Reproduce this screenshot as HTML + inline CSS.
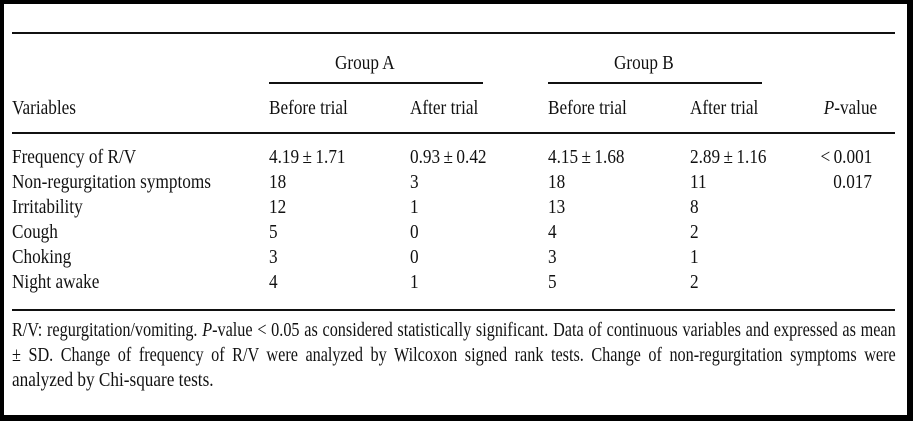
<!DOCTYPE html>
<html><head><meta charset="utf-8"><style>
html,body{margin:0;padding:0;background:#fff}
#f{position:relative;width:913px;height:421px;box-sizing:border-box;border:4px solid #000;border-right-width:6px;border-bottom-width:6px;background:#fff;overflow:hidden;font-family:"Liberation Serif",serif;font-size:20px;color:#111}
.t{position:absolute;line-height:22px;white-space:nowrap;transform:scaleX(0.86);transform-origin:0 0}
.rt{position:absolute;right:35px;line-height:22px;white-space:nowrap;transform:scaleX(0.86);transform-origin:100% 0}
.r{position:absolute;background:#111;height:2px}
.n{position:absolute;left:8px;width:1091px;line-height:24px;white-space:nowrap;text-align:justify;text-align-last:justify;transform:scaleX(0.81);transform-origin:0 0}
</style></head><body><div id="f">
<div class="r" style="left:8px;top:28px;width:883px"></div>
<div class="t" style="left:331px;top:48px">Group A</div>
<div class="t" style="left:610px;top:48px">Group B</div>
<div class="r" style="left:265px;top:78px;width:214px"></div>
<div class="r" style="left:544px;top:78px;width:214px"></div>
<div class="t" style="left:8px;top:93px">Variables</div>
<div class="t" style="left:265px;top:93px">Before trial</div>
<div class="t" style="left:406px;top:93px">After trial</div>
<div class="t" style="left:544px;top:93px">Before trial</div>
<div class="t" style="left:686px;top:93px">After trial</div>
<div class="rt" style="top:93px;right:30px"><i>P</i>-value</div>
<div class="r" style="left:8px;top:128px;width:883px"></div>

<div class="t" style="left:8px;top:142px">Frequency of R/V</div>
<div class="t" style="left:265px;top:142px">4.19&thinsp;±&thinsp;1.71</div>
<div class="t" style="left:406px;top:142px">0.93&thinsp;±&thinsp;0.42</div>
<div class="t" style="left:544px;top:142px">4.15&thinsp;±&thinsp;1.68</div>
<div class="t" style="left:686px;top:142px">2.89&thinsp;±&thinsp;1.16</div>
<div class="rt" style="top:142px">&lt;&thinsp;0.001</div>

<div class="t" style="left:8px;top:167px">Non-regurgitation symptoms</div>
<div class="t" style="left:265px;top:167px">18</div>
<div class="t" style="left:406px;top:167px">3</div>
<div class="t" style="left:544px;top:167px">18</div>
<div class="t" style="left:686px;top:167px">11</div>
<div class="rt" style="top:167px">0.017</div>

<div class="t" style="left:8px;top:192px">Irritability</div>
<div class="t" style="left:265px;top:192px">12</div>
<div class="t" style="left:406px;top:192px">1</div>
<div class="t" style="left:544px;top:192px">13</div>
<div class="t" style="left:686px;top:192px">8</div>

<div class="t" style="left:8px;top:217px">Cough</div>
<div class="t" style="left:265px;top:217px">5</div>
<div class="t" style="left:406px;top:217px">0</div>
<div class="t" style="left:544px;top:217px">4</div>
<div class="t" style="left:686px;top:217px">2</div>

<div class="t" style="left:8px;top:242px">Choking</div>
<div class="t" style="left:265px;top:242px">3</div>
<div class="t" style="left:406px;top:242px">0</div>
<div class="t" style="left:544px;top:242px">3</div>
<div class="t" style="left:686px;top:242px">1</div>

<div class="t" style="left:8px;top:267px">Night awake</div>
<div class="t" style="left:265px;top:267px">4</div>
<div class="t" style="left:406px;top:267px">1</div>
<div class="t" style="left:544px;top:267px">5</div>
<div class="t" style="left:686px;top:267px">2</div>
<div class="r" style="left:8px;top:305px;width:883px"></div>

<div class="n" style="top:314px">R/V: regurgitation/vomiting. <i>P</i>-value &lt; 0.05 as considered statistically significant. Data of continuous variables and expressed as mean</div>
<div class="n" style="top:339px">± SD. Change of frequency of R/V were analyzed by Wilcoxon signed rank tests. Change of non-regurgitation symptoms were</div>
<div class="t" style="left:8px;top:364px;line-height:24px">analyzed by Chi-square tests.</div>
</div></body></html>
